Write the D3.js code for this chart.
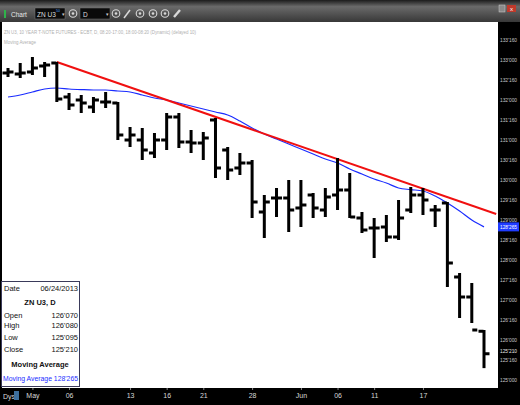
<!DOCTYPE html>
<html>
<head>
<meta charset="utf-8">
<script src="https://cdn.jsdelivr.net/npm/d3@7"></script>
<style>
body { margin: 0; background: #000; }
svg { display: block; }
text { font-family: "Liberation Sans Narrow", "Liberation Sans", Arial, sans-serif; }
</style>
</head>
<body>
<div id="chart"></div>
<script>
// daily bars, ZN U3, 04/29 - 06/24/2013
var dates = ["04/29","04/30","05/01","05/02","05/03","05/06","05/07","05/08","05/09","05/10",
  "05/13","05/14","05/15","05/16","05/17","05/20","05/21","05/22","05/23","05/24",
  "05/28","05/29","05/30","05/31","06/03","06/04","06/05","06/06","06/07","06/10",
  "06/11","06/12","06/13","06/14","06/17","06/18","06/19","06/20","06/21","06/24"];
var open = [132.675,132.65,132.70,132.85,132.925,132.075,132.00,131.825,131.95,131.925,
  131.00,131.00,130.675,131.00,131.575,130.95,130.925,131.50,130.75,130.30,
  130.425,129.20,129.55,129.55,129.30,129.625,129.25,129.625,129.75,129.05,
  128.80,128.825,128.575,129.25,129.625,129.25,129.425,127.575,127.075,126.21875];
var high = [132.80,132.925,133.075,132.95,132.95,132.175,132.125,132.075,132.20,131.95,
  131.325,131.30,131.175,131.675,131.675,131.25,131.20,131.55,130.825,130.675,
  130.50,129.625,129.80,130.00,130.00,129.675,129.80,130.55,130.175,129.20,
  129.05,129.125,129.50,129.825,129.80,129.375,129.45,127.675,127.425,126.25];
var low = [132.575,132.55,132.625,132.575,131.95,131.75,131.675,131.675,131.80,131.00,
  130.825,130.50,130.55,130.75,130.80,130.675,130.50,130.05,130.00,130.125,
  129.05,128.55,129.075,128.70,128.825,129.05,129.075,129.25,129.05,128.675,
  128.05,128.45,128.50,129.175,129.125,128.825,127.325,126.55,126.425,125.296875];
var close = [132.70,132.675,132.80,132.875,132.025,131.875,131.925,132.00,131.95,131.125,
  131.125,130.75,131.00,131.575,130.95,130.925,131.05,130.30,130.25,130.425,
  129.45,129.45,129.55,129.25,129.375,129.30,129.575,129.75,129.075,128.75,
  128.80,128.575,129.05,129.625,129.50,129.25,127.925,127.075,126.25,125.65625];
var movingAvg = [132.075,132.125,132.20,132.275,132.30,132.275,132.26,132.25,132.25,132.225,
  132.20,132.125,132.05,132.00,131.925,131.85,131.775,131.70,131.625,131.475,
  131.30,131.15,131.025,130.90,130.775,130.65,130.525,130.425,130.275,130.15,
  130.025,129.925,129.80,129.76,129.725,129.60,129.425,129.225,129.00,128.828125];
// trend line drawn on the chart (bar index, price)
var trendLine = [[4, 132.95], [40, 129.15]];
// bottom axis labels
var tickIdx = [2, 5, 10, 13, 16, 20, 24, 27, 30, 34];
var tickLabels = ["May","06","13","16","21","28","Jun","06","11","17"];
var priceTicks = d3.range(125, 133.51, 0.5);

var W = 520, H = 405;
var plot = {left: 2, right: 498, top: 22, bottom: 388};

// price in 32nds, e.g. 125.65625 -> 125'210
function fmt32(p) {
  var whole = Math.floor(p + 1e-9);
  var f = Math.round((p - whole) * 320);
  return whole + "'" + ("00" + f).slice(-3);
}

var svg = d3.select("#chart").append("svg")
  .attr("width", W)
  .attr("height", H);

var defs = svg.append("defs");
var grad = defs.append("linearGradient").attr("id", "tb").attr("x1", 0).attr("y1", 0).attr("x2", 0).attr("y2", 1);
grad.append("stop").attr("offset", "0").attr("stop-color", "#1c1c1c");
grad.append("stop").attr("offset", "0.3").attr("stop-color", "#6a6a6a");
grad.append("stop").attr("offset", "1").attr("stop-color", "#383838");
defs.append("clipPath").attr("id", "clip").append("rect")
  .attr("x", plot.left).attr("y", plot.top)
  .attr("width", plot.right - plot.left).attr("height", plot.bottom - plot.top);

svg.append("rect").attr("width", W).attr("height", H).attr("fill", "#000");

// toolbar
var tb = svg.append("g");
tb.append("rect").attr("width", W).attr("height", plot.top).attr("fill", "url(#tb)");
tb.append("rect").attr("x", 4).attr("y", 10).attr("width", 2).attr("height", 8).attr("fill", "#2fb34a");
tb.append("text").attr("x", 11).attr("y", 17).attr("font-size", 6.5).attr("fill", "#e8e8e8").text("Chart");
tb.append("rect").attr("x", 35).attr("y", 8).attr("width", 30).attr("height", 11).attr("fill", "#0a0a0a").attr("stroke", "#777").attr("stroke-width", 0.5);
tb.append("text").attr("x", 37).attr("y", 16.5).attr("font-size", 6.5).attr("fill", "#ddd").text("ZN U3");
tb.append("text").attr("x", 56).attr("y", 12).attr("font-size", 3.5).attr("fill", "#4aa0ff").text("50");
tb.append("text").attr("x", 62).attr("y", 16).attr("font-size", 5).attr("fill", "#ccc").text("▾");
tb.append("rect").attr("x", 80).attr("y", 8).attr("width", 30).attr("height", 11).attr("fill", "#0a0a0a").attr("stroke", "#777").attr("stroke-width", 0.5);
tb.append("text").attr("x", 83).attr("y", 16.5).attr("font-size", 6.5).attr("fill", "#ddd").text("D");
tb.append("text").attr("x", 106).attr("y", 16).attr("font-size", 5).attr("fill", "#ccc").text("▾");
[73, 116, 140, 153, 165].forEach(function(cx) {
  tb.append("circle").attr("cx", cx).attr("cy", 13.5).attr("r", 3.8)
    .attr("fill", "none").attr("stroke", "#d8d8d8").attr("stroke-width", 1.1);
  tb.append("circle").attr("cx", cx).attr("cy", 13.5).attr("r", 1.3).attr("fill", "#d8d8d8");
});
tb.append("path").attr("d", "M124,18 L130,10").attr("stroke", "#d8d8d8").attr("stroke-width", 1.6);
tb.append("path").attr("d", "M174,17 L180,10").attr("stroke", "#d8d8d8").attr("stroke-width", 2.4);
tb.append("rect").attr("x", 499).attr("y", 5).attr("width", 6).attr("height", 7).attr("fill", "#8a8a8a").attr("stroke", "#ccc").attr("stroke-width", 0.5);
tb.append("rect").attr("x", 507).attr("y", 5).attr("width", 9).attr("height", 7).attr("fill", "#c0392b");
tb.append("text").attr("x", 511.5).attr("y", 11).attr("font-size", 6).attr("fill", "#fff").attr("text-anchor", "middle").text("x");

// plot area
svg.append("rect")
  .attr("x", plot.left).attr("y", plot.top)
  .attr("width", plot.right - plot.left).attr("height", plot.bottom - plot.top)
  .attr("fill", "#fff");

var x = d3.scaleLinear().domain([0, dates.length - 1]).range([8, 484]);
var y = d3.scaleLinear().domain([125, 133.5]).range([380, 40]);

svg.append("text").attr("x", 4).attr("y", 34).attr("font-size", 5).attr("fill", "#b0b0b0")
  .attr("textLength", 192).attr("lengthAdjust", "spacingAndGlyphs")
  .text("ZN U3, 10 YEAR T-NOTE FUTURES - ECBT, D, 08:20-17:00, 18:00-08:20 (Dynamic) (delayed 10)");
svg.append("text").attr("x", 4).attr("y", 44).attr("font-size", 5).attr("fill", "#b0b0b0")
  .attr("textLength", 32).attr("lengthAdjust", "spacingAndGlyphs")
  .text("Moving Average");

var vis = svg.append("g").attr("clip-path", "url(#clip)");

// moving average
var maLine = d3.line()
  .x(function(d, i) { return x(i); })
  .y(function(d) { return y(d); })
  .curve(d3.curveMonotoneX);
vis.append("path").datum(movingAvg)
  .attr("d", maLine)
  .attr("fill", "none")
  .attr("stroke", "#1a2cff")
  .attr("stroke-width", 1.2);

// trend line
vis.append("line")
  .attr("x1", x(trendLine[0][0])).attr("y1", y(trendLine[0][1]))
  .attr("x2", x(trendLine[1][0])).attr("y2", y(trendLine[1][1]))
  .attr("stroke", "#f01010")
  .attr("stroke-width", 2);

// OHLC bars
var bars = vis.append("g").selectAll("g")
  .data(dates.map(function(d, i) { return i; }))
  .enter().append("g");
bars.append("rect")
  .attr("x", function(i) { return x(i) - 1.5; })
  .attr("y", function(i) { return y(high[i]); })
  .attr("width", 3)
  .attr("height", function(i) { return Math.max(3, y(low[i]) - y(high[i])); })
  .attr("fill", "#000");
bars.append("rect")
  .attr("x", function(i) { return x(i) - 5.5; })
  .attr("y", function(i) { return y(open[i]) - 1.5; })
  .attr("width", 5)
  .attr("height", 3)
  .attr("fill", "#000");
bars.append("rect")
  .attr("x", function(i) { return x(i) + 0.5; })
  .attr("y", function(i) { return y(close[i]) - 1.5; })
  .attr("width", 5)
  .attr("height", 3)
  .attr("fill", "#000");

// right price axis
var yAxis = svg.append("g")
  .attr("transform", "translate(" + plot.right + ",0)")
  .call(d3.axisRight(y).tickValues(priceTicks).tickFormat(fmt32).tickSize(0).tickPadding(2));
yAxis.select(".domain").remove();
yAxis.selectAll("text")
  .attr("font-size", 5.5)
  .attr("fill", "#c8c8c8")
  .attr("textLength", 17)
  .attr("lengthAdjust", "spacingAndGlyphs")
  .style("font-family", "'Liberation Sans Narrow','Liberation Sans',Arial,sans-serif");

var last = dates.length - 1;
var maMark = svg.append("g").attr("transform", "translate(" + plot.right + "," + y(movingAvg[last]) + ")");
maMark.append("rect").attr("x", 0).attr("y", -4.5).attr("width", 21).attr("height", 9).attr("fill", "#1f3cff");
maMark.append("text").attr("x", 2).attr("y", 2).attr("font-size", 5.5).attr("fill", "#fff")
  .attr("textLength", 17).attr("lengthAdjust", "spacingAndGlyphs").text(fmt32(movingAvg[last]));
var cMark = svg.append("g").attr("transform", "translate(" + plot.right + "," + (y(close[last]) - 3) + ")");
cMark.append("rect").attr("x", 0).attr("y", -3.5).attr("width", 21).attr("height", 6).attr("fill", "#000");
cMark.append("text").attr("x", 2).attr("y", 2).attr("font-size", 5.5).attr("fill", "#e8e8e8")
  .attr("textLength", 17).attr("lengthAdjust", "spacingAndGlyphs").text(fmt32(close[last]));

// bottom date axis
var xAxis = svg.append("g")
  .attr("transform", "translate(0," + plot.bottom + ")")
  .call(d3.axisBottom(x).tickValues(tickIdx)
    .tickFormat(function(d, i) { return tickLabels[i]; })
    .tickSize(2).tickPadding(3));
xAxis.select(".domain").remove();
xAxis.selectAll("line").attr("stroke", "#888");
xAxis.selectAll("text")
  .attr("font-size", 7)
  .attr("fill", "#d8d8d8")
  .style("font-family", "'Liberation Sans Narrow','Liberation Sans',Arial,sans-serif");
svg.append("text").attr("x", 3).attr("y", 399).attr("font-size", 7).attr("fill", "#d8d8d8").text("Dys");
svg.append("rect").attr("x", 14).attr("y", 391).attr("width", 5).attr("height", 9).attr("fill", "#3d6f9e");

// data window
var box = svg.append("g");
box.append("rect").attr("x", 1.5).attr("y", 281.5).attr("width", 78).attr("height", 105)
  .attr("fill", "#fff").attr("stroke", "#3a3a5a").attr("stroke-width", 1);
var rows = [
  ["Date", "06/24/2013", 291],
  ["Open", fmt32(open[last]), 318],
  ["High", fmt32(high[last]), 328],
  ["Low", fmt32(low[last]), 340],
  ["Close", fmt32(close[last]), 352]
];
rows.forEach(function(r) {
  box.append("text").attr("x", 4).attr("y", r[2]).attr("font-size", 7.5).attr("fill", "#111").text(r[0]);
  box.append("text").attr("x", 78).attr("y", r[2]).attr("font-size", 7.5).attr("fill", "#111")
    .attr("text-anchor", "end").text(r[1]);
});
box.append("text").attr("x", 40).attr("y", 305).attr("font-size", 7.5).attr("font-weight", "bold")
  .attr("fill", "#111").attr("text-anchor", "middle").text("ZN U3, D");
box.append("text").attr("x", 40).attr("y", 367).attr("font-size", 7.5).attr("font-weight", "bold")
  .attr("fill", "#111").attr("text-anchor", "middle").text("Moving Average");
box.append("text").attr("x", 3).attr("y", 381).attr("font-size", 7.5).attr("fill", "#1a2cff")
  .attr("textLength", 75).attr("lengthAdjust", "spacingAndGlyphs")
  .text("Moving Average " + fmt32(movingAvg[last]));
</script>
</body>
</html>
